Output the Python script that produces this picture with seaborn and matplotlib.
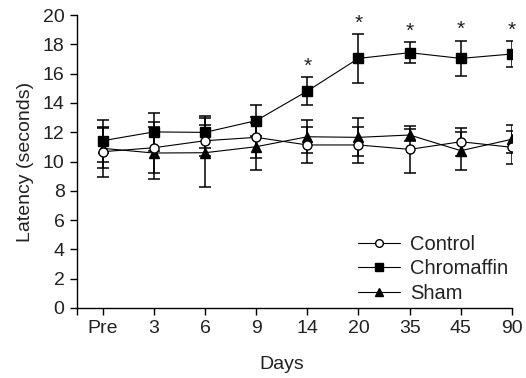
import numpy as np
import pandas as pd
import matplotlib
matplotlib.use("Agg")
import matplotlib.pyplot as plt
import seaborn as sns

days = ['Pre', '3', '6', '9', '14', '20', '35', '45', '90']

control = [10.67, 10.94, 11.42, 11.65, 11.13, 11.13, 10.83, 11.35, 10.97]
control_err = [1.7, 1.75, 1.07, 1.4, 1.2, 1.2, 1.59, 0.95, 1.14]

chromaffin = [11.42, 12.02, 11.99, 12.79, 14.81, 17.04, 17.43, 17.04, 17.34]
chromaffin_err = [1.42, 1.27, 1.1, 1.07, 0.93, 1.68, 0.7, 1.22, 0.87]

sham = [10.9, 10.58, 10.6, 11.01, 11.69, 11.65, 11.81, 10.74, 11.52]
sham_err = [1.37, 1.8, 2.36, 1.6, 1.14, 1.3, 0.4, 1.3, 0.97]

# days marked with an asterisk (chromaffin vs control)
signif = ['14', '20', '35', '45', '90']

sns.set_style("ticks")
plt.rcParams['font.family'] = ['Liberation Sans', 'DejaVu Sans']
plt.rcParams['font.size'] = 14

x = np.arange(len(days))
df = pd.DataFrame({'pos': x, 'Control': control, 'Chromaffin': chromaffin, 'Sham': sham})

fig = plt.figure(figsize=(5.26, 3.78), dpi=100)
ax = fig.add_axes([0.1464, 0.1852, 0.827, 0.775])

groups = [
    ('Sham', sham, sham_err, '^', 'black'),
    ('Chromaffin', chromaffin, chromaffin_err, 's', 'black'),
    ('Control', control, control_err, 'o', 'white'),
]
handles = {}
for name, vals, err, mk, fc in groups:
    ax.errorbar(x, vals, yerr=err, fmt='none', ecolor='black', elinewidth=1.1,
                capsize=4.5, capthick=1.1, zorder=2)
    sns.lineplot(data=df, x='pos', y=name, ax=ax, color='black', lw=0.8,
                 marker=mk, markersize=6.5, markerfacecolor=fc,
                 markeredgecolor='black', markeredgewidth=1.0, zorder=3)
    handles[name] = ax.lines[-1]

for d in signif:
    i = days.index(d)
    ax.text(i, chromaffin[i] + chromaffin_err[i] + 0.1, '*', ha='center', va='bottom',
            fontsize=15, color='#222222')

ax.set_xlim(-0.5, 8)
ax.set_ylim(0, 20)
ax.set_yticks(np.arange(0, 21, 2))
ax.set_xticks(np.concatenate([[-0.5], x]))
ax.set_xticklabels([''] + days)
ax.tick_params(direction='out', length=5, width=1, color='black', labelsize=14,
               labelcolor='#222222', pad=4)
for s in ['left', 'bottom']:
    ax.spines[s].set_linewidth(1)
    ax.spines[s].set_color('black')
sns.despine(ax=ax)

ax.set_xlabel('Days', fontsize=14, color='#222222')
ax.set_ylabel('Latency (seconds)', fontsize=14, color='#222222', labelpad=6)
ax.xaxis.set_label_coords(0.471, -0.165)

leg = ax.legend([handles['Control'], handles['Chromaffin'], handles['Sham']],
                ['Control', 'Chromaffin', 'Sham'], loc='upper left',
                bbox_to_anchor=(0.645, 0.25), frameon=False, fontsize=14.5,
                handlelength=2.1, handletextpad=0.5, labelspacing=0.27,
                borderpad=0, borderaxespad=0, markerscale=0.85)
for t in leg.get_texts():
    t.set_color('#222222')

fig.savefig('out.png', dpi=100)
